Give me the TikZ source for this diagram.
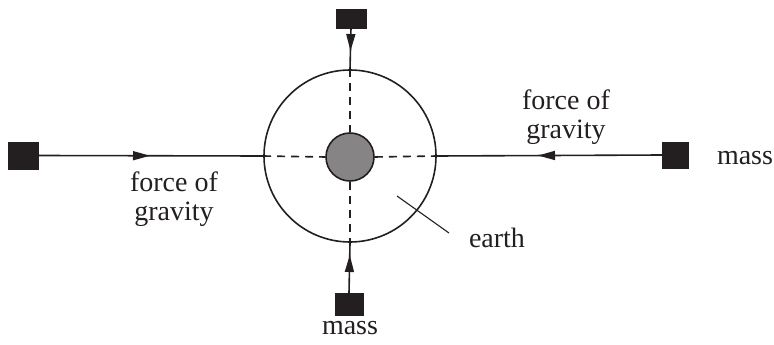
\documentclass[tikz,border=0pt]{standalone}
\usepackage{fontspec}
\setmainfont{Liberation Serif}
\usetikzlibrary{arrows.meta,decorations.markings}
\definecolor{ink}{HTML}{231F20}
\begin{document}
\begin{tikzpicture}[x=1pt,y=-1pt,line width=1.6pt,
  massbox/.style={draw=ink,fill=ink,line width=0.5pt,inner sep=0pt,outer sep=0pt},
  lbl/.style={font=\fontsize{28}{29}\selectfont,text=ink,align=center,inner sep=0pt},
  guide/.style={draw=ink,dash pattern=on 8pt off 6pt},
  pull/.style={draw=ink,postaction={decorate},decoration={markings,mark=at position #1 with {\arrow{Triangle[length=17pt,width=9pt]}}}}]
\useasboundingbox (0,0) rectangle (774,345);
\node[circle,draw=ink,minimum size=172pt,inner sep=0pt] (earth) at (350,156) {};
\node[circle,draw=ink,fill=ink!55,minimum size=48pt,inner sep=0pt] (core) at (350,157) {};
\node[massbox,minimum width=30pt,minimum height=19pt] (mtop) at (351,18.5) {};
\node[massbox,minimum width=28pt,minimum height=22pt] (mbot) at (349,304) {};
\node[massbox,minimum width=30pt,minimum height=27pt] (mleft) at (23,155.5) {};
\node[massbox,minimum width=26pt,minimum height=26pt] (mright) at (675,155) {};
% connectors
\draw[pull=112pt] (mleft.east) -- (earth.west);
\draw[pull=124pt] (mright.west) -- (earth.east);
\draw[pull=23pt] (mtop.south) -- (earth.north);
\draw[pull=38pt] (mbot.north) -- (earth.south);
% dashed guides
\draw[guide] (earth.west) -- (core.west);
\draw[guide] (core.east) -- (earth.east);
\draw[guide] (earth.north) -- (core.north);
\draw[guide] (core.south) -- (earth.south);
% labels
\node[lbl] (fl) at (174,199) {force of\\gravity};
\node[lbl] (fr) at (566,117) {force of\\gravity};
\node[lbl] (massr) at (745,158) {mass};
\node[lbl] (massb) at (350,328) {mass};
\node[lbl] (earthlbl) at (497,238) {earth};
\coordinate (lead) at (397,196);
\draw[ink,line width=1.1pt] (lead) -- (449,233);
\end{tikzpicture}
\end{document}
